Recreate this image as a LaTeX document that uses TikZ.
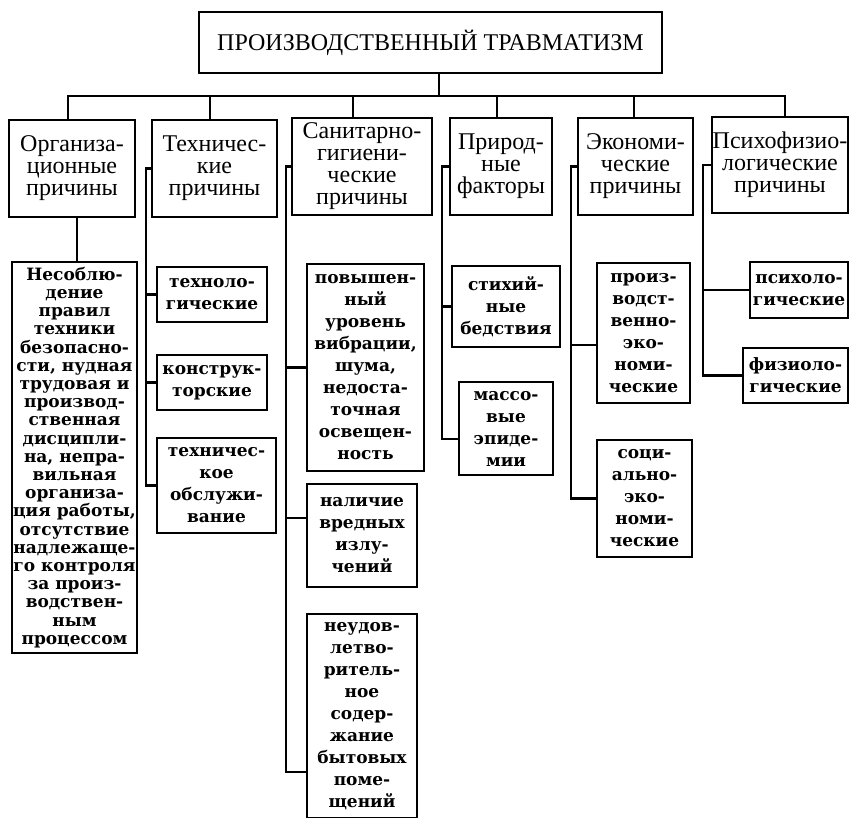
\documentclass[tikz,border=0pt]{standalone}
\usepackage{fontspec}
\setmainfont{Liberation Serif}
\newfontfamily\childfont{DejaVu Serif}
\begin{document}
\begin{tikzpicture}[x=1pt,y=-1pt,
  box/.style={draw, line width=2.4pt, inner sep=0pt, outer sep=0pt, align=center},
  head/.style={box, font=\fontsize{24}{22}\selectfont},
  leaf/.style={box, font=\childfont\bfseries\fontsize{17}{22}\selectfont},
  wire/.style={line width=2.4pt}]
\fill[white] (0,0) rectangle (850,817);
\useasboundingbox (0,0) rectangle (850,817);

% title
\node[box, font=\fontsize{24}{26}\selectfont, minimum width=463pt, minimum height=61pt] (title) at (430.5,42.5) {ПРОИЗВОДСТВЕННЫЙ ТРАВМАТИЗМ};

% categories
\node[head, minimum width=126pt, minimum height=97pt] (c1) at (72,168.5) {Организа-\\ционные\\причины};
\node[head, minimum width=125pt, minimum height=97pt] (c2) at (214.5,168.5) {Техничес-\\кие\\причины};
\node[head, minimum width=140pt, minimum height=97pt] (c3) at (362,166.5) {Санитарно-\\гигиени-\\ческие\\причины};
\node[head, minimum width=102pt, minimum height=97pt] (c4) at (501,166.5) {Природ-\\ные\\факторы};
\node[head, minimum width=115pt, minimum height=97pt] (c5) at (635.5,166.5) {Экономи-\\ческие\\причины};
\node[head, minimum width=136pt, minimum height=96pt] (c6) at (780,165) {Психофизио-\\логические\\причины};

% leaves
\node[leaf, font=\childfont\bfseries\fontsize{17}{18.2}\selectfont, minimum width=125pt, minimum height=391pt] (o1) at (74.5,457.5) {Несоблю-\\дение\\правил\\техники\\безопасно-\\сти, нудная\\трудовая и\\производ-\\ственная\\дисципли-\\на, непра-\\вильная\\организа-\\ция работы,\\отсутствие\\надлежаще-\\го контроля\\за произ-\\водствен-\\ным\\процессом};

\node[leaf, minimum width=110pt, minimum height=55pt] (t1) at (212,294.5) {техноло-\\гические};
\node[leaf, minimum width=110pt, minimum height=55pt] (t2) at (212,382.5) {конструк-\\торские};
\node[leaf, minimum width=119pt, minimum height=95pt] (t3) at (216.5,485.5) {техничес-\\кое\\обслужи-\\вание};

\node[leaf, minimum width=117pt, minimum height=207pt] (s1) at (365.5,367.5) {повышен-\\ный\\уровень\\вибрации,\\шума,\\недоста-\\точная\\освещен-\\ность};
\node[leaf, minimum width=110pt, minimum height=103pt] (s2) at (362,535.5) {наличие\\вредных\\излу-\\чений};
\node[leaf, minimum width=110pt, minimum height=204pt] (s3) at (362,716) {неудов-\\летво-\\ритель-\\ное\\содер-\\жание\\бытовых\\поме-\\щений};

\node[leaf, minimum width=108pt, minimum height=81pt] (n1) at (506,306.5) {стихий-\\ные\\бедствия};
\node[leaf, minimum width=94pt, minimum height=93pt] (n2) at (506,428.5) {массо-\\вые\\эпиде-\\мии};

\node[leaf, minimum width=93pt, minimum height=140pt] (e1) at (643.5,333) {произ-\\водст-\\венно-\\эко-\\номи-\\ческие};
\node[leaf, minimum width=95pt, minimum height=117pt] (e2) at (644.5,498.5) {соци-\\ально-\\эко-\\номи-\\ческие};

\node[leaf, minimum width=98pt, minimum height=56pt] (p1) at (799,290) {психоло-\\гические};
\node[leaf, minimum width=105pt, minimum height=55pt] (p2) at (795.5,375.5) {физиоло-\\гические};

% bus
\coordinate (bus) at (439,96);
\draw[wire] ([xshift=8.5pt]title.south) -- (bus);
\draw[wire] ([xshift=-4pt]c1.north) |- (bus);
\draw[wire] ([xshift=-4.5pt]c2.north) |- (bus);
\draw[wire] ([xshift=-9pt]c3.north) |- (bus);
\draw[wire] ([xshift=-4pt]c4.north) |- (bus);
\draw[wire] ([xshift=-1.5pt]c5.north) |- (bus);
\draw[wire] ([xshift=5pt]c6.north) |- (bus);

% organisational
\draw[wire] ([xshift=5pt]c1.south) -- ([xshift=2.5pt]o1.north);

% technical
\coordinate (k2) at ([xshift=-6pt]c2.west);
\draw[wire] (c2.west) -- (k2) |- (t3.west);
\draw[wire] (t1.west) -- (t1.west -| k2);
\draw[wire] (t2.west) -- (t2.west -| k2);

% sanitary
\coordinate (k3) at ([xshift=-6pt]c3.west);
\draw[wire] (c3.west) -- (k3) |- ([yshift=-56pt]s3.west);
\draw[wire] (s1.west) -- (s1.west -| k3);
\draw[wire] ([yshift=17.5pt]s2.west) -- ([yshift=17.5pt]s2.west -| k3);

% natural
\coordinate (k4) at ([xshift=-8pt]c4.west);
\draw[wire] (c4.west) -- (k4) |- ([yshift=-10.5pt]n2.west);
\draw[wire] (n1.west) -- (n1.west -| k4);

% economic
\coordinate (k5) at ([xshift=-7pt]c5.west);
\draw[wire] (c5.west) -- (k5) |- (e2.west);
\draw[wire] ([yshift=-12pt]e1.west) -- ([yshift=-12pt]e1.west -| k5);

% psychophysiological
\coordinate (k6) at ([xshift=-9pt]c6.west);
\draw[wire] (c6.west) -- (k6) |- (p2.west);
\draw[wire] (p1.west) -- (p1.west -| k6);
\end{tikzpicture}
\end{document}
